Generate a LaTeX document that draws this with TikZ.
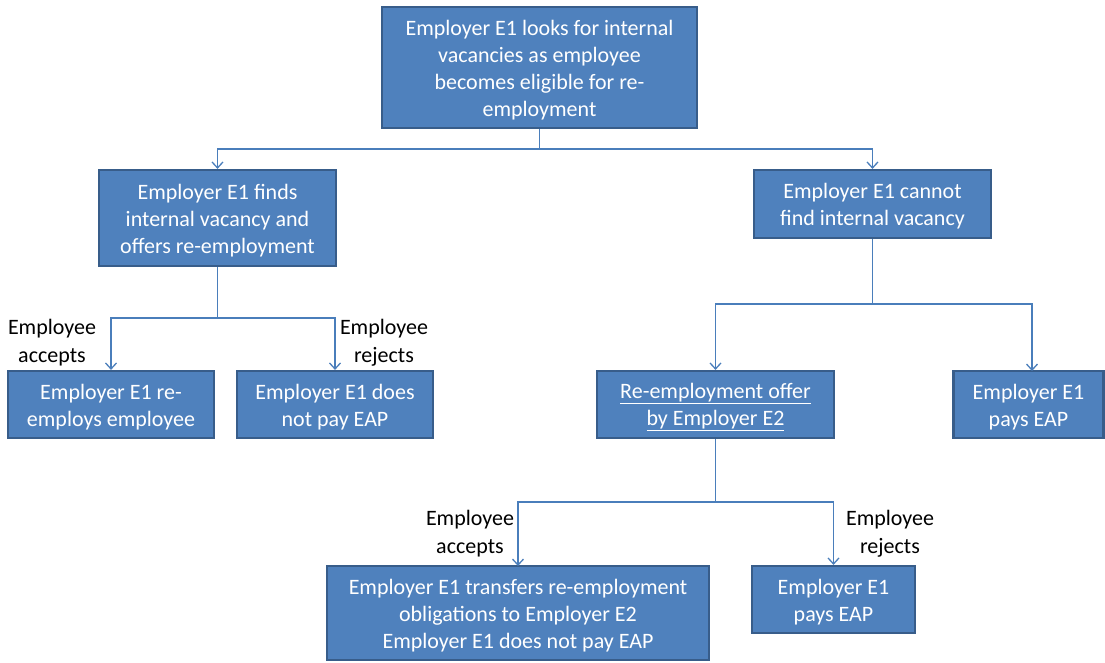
\documentclass[tikz,border=0pt]{standalone}
\usepackage{fontspec}
\setmainfont{Carlito}
\usetikzlibrary{arrows.meta}
\definecolor{boxfill}{HTML}{4F81BD}
\definecolor{boxline}{HTML}{385D8A}
\definecolor{conn}{HTML}{4A7EBB}
\newcommand\upr{\rule{0pt}{20.5pt}}
\begin{document}
\begin{tikzpicture}[x=1pt,y=-1pt,
  box/.style={draw=boxline,line width=2.2pt,fill=boxfill,text=white,align=center,inner sep=0pt,font=\fontsize{22}{27}\selectfont},
  lbl/.style={align=center,inner sep=0pt,font=\fontsize{22}{28}\selectfont},
  conn/.style={draw=conn,line width=1.3pt},
  arr/.style={conn,-{Straight Barb[length=6pt,width=11pt,line width=1.3pt]}}]
\useasboundingbox (0,0) rectangle (1105,662);
\node[box,minimum width=315pt,minimum height=121pt] (T) at (539.5,67.5) {\upr Employer E1 looks for internal\\vacancies as employee\\becomes eligible for re-\\employment};
\node[box,minimum width=237pt,minimum height=96pt] (A) at (217.5,218) {\upr Employer E1 finds\\internal vacancy and\\offers re-employment};
\node[box,minimum width=237pt,minimum height=68pt] (B) at (872.5,204) {\upr Employer E1 cannot\\find internal vacancy};
\node[box,minimum width=206pt,minimum height=67pt] (A1) at (111,404.5) {\upr Employer E1 re-\\employs employee};
\node[box,minimum width=196pt,minimum height=67pt] (A2) at (335,404.5) {\upr Employer E1 does\\not pay EAP};
\node[box,minimum width=237pt,minimum height=67pt] (B1) at (715.5,404.5) {\upr\underline{Re-employment offer}\\\underline{by Employer E2}};
\node[box,minimum width=150pt,minimum height=67pt] (B2) at (1028.5,404.5) {\upr Employer E1\\pays EAP};
\node[box,minimum width=382pt,minimum height=94pt] (C1) at (518,613) {\upr Employer E1 transfers re-employment\\obligations to Employer E2\\Employer E1 does not pay EAP};
\node[box,minimum width=163pt,minimum height=67pt] (C2) at (833.5,599.5) {\upr Employer E1\\pays EAP};
% connectors
\coordinate (t1) at (539.5,149);
\draw[arr] (T.south) -- (t1) -| (A.north);
\draw[arr] (t1) -| (B.north);
\coordinate (a1) at (217.5,318);
\draw[arr] (A.south) -- (a1) -| (A1.north);
\draw[arr] (a1) -| (A2.north);
\coordinate (b1) at (872.5,304);
\draw[arr] (B.south) -- (b1) -| (B1.north);
\coordinate (b2t) at (1032,371);
\draw[arr] (b1) -| (b2t);
\coordinate (c1) at (715.5,502);
\coordinate (c1t) at (518,566);
\draw[arr] (B1.south) -- (c1) -| (c1t);
\draw[arr] (c1) -| (C2.north);
% labels
\node[lbl] (L1) at (52,340) {\upr Employee\\accepts};
\node[lbl] (L2) at (384,340) {\upr Employee\\rejects};
\node[lbl] (L3) at (470,531) {\upr Employee\\accepts};
\node[lbl] (L4) at (890,531) {\upr Employee\\rejects};
\end{tikzpicture}
\end{document}
